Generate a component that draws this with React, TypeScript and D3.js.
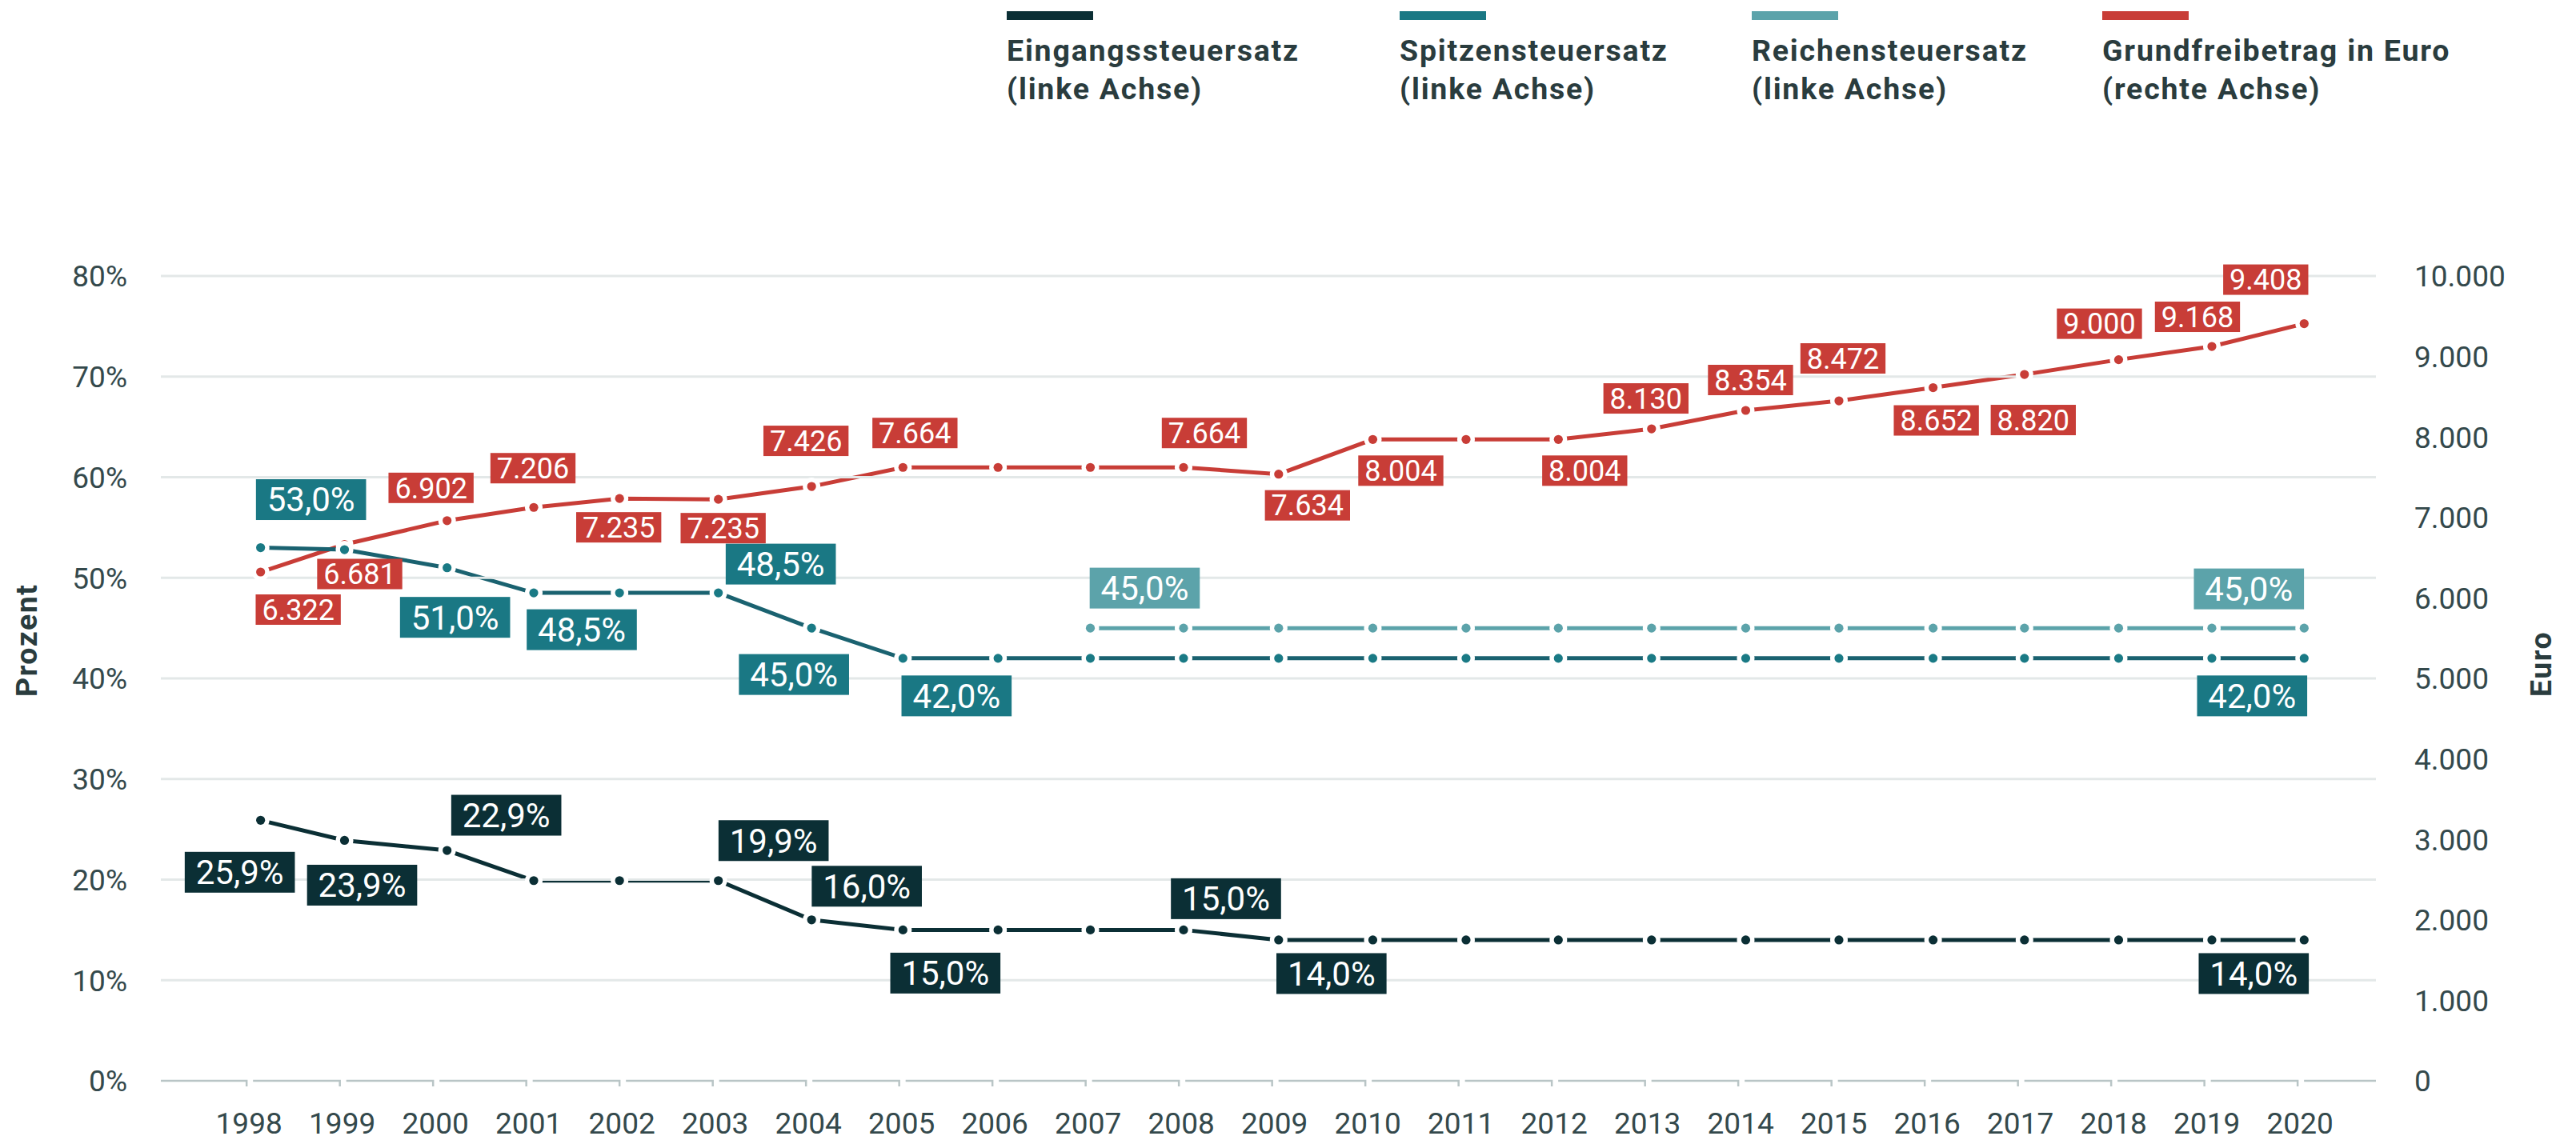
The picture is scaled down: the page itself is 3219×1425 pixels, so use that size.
import React from 'react';
import * as d3 from 'd3';

// ---------- DATA ----------
const years = [1998, 1999, 2000, 2001, 2002, 2003, 2004, 2005, 2006, 2007, 2008, 2009, 2010, 2011, 2012, 2013, 2014, 2015, 2016, 2017, 2018, 2019, 2020];
const dateOffsets = [0.15, 0.05, 0.15, 0.08, 0.0, 0.06, 0.06, 0.04, 0.06, 0.05, 0.05, 0.07, 0.08, 0.08, 0.07, 0.07, 0.08, 0.08, 0.09, 0.07, 0.08, 0.08, 0.07];

const eingangssteuersatz = [25.9, 23.9, 22.9, 19.9, 19.9, 19.9, 16.0, 15.0, 15.0, 15.0, 15.0, 14.0, 14.0, 14.0, 14.0, 14.0, 14.0, 14.0, 14.0, 14.0, 14.0, 14.0, 14.0];
const spitzensteuersatz = [53.0, 52.8, 51.0, 48.5, 48.5, 48.5, 45.0, 42.0, 42.0, 42.0, 42.0, 42.0, 42.0, 42.0, 42.0, 42.0, 42.0, 42.0, 42.0, 42.0, 42.0, 42.0, 42.0];
const reichensteuersatz: (number | null)[] = [null, null, null, null, null, null, null, null, null, 45.0, 45.0, 45.0, 45.0, 45.0, 45.0, 45.0, 45.0, 45.0, 45.0, 45.0, 45.0, 45.0, 45.0];
const grundfreibetrag = [6322, 6665, 6960, 7125, 7235, 7225, 7385, 7622, 7622, 7622, 7622, 7538, 7969, 7969, 7969, 8101, 8330, 8449, 8613, 8777, 8960, 9125, 9408];

const leftTicks = [0, 10, 20, 30, 40, 50, 60, 70, 80];
const rightTicks = [0, 1000, 2000, 3000, 4000, 5000, 6000, 7000, 8000, 9000, 10000];

const legendItems = [
  { key: 'E', line1: 'Eingangssteuersatz', line2: '(linke Achse)' },
  { key: 'S', line1: 'Spitzensteuersatz', line2: '(linke Achse)' },
  { key: 'R', line1: 'Reichensteuersatz', line2: '(linke Achse)' },
  { key: 'G', line1: 'Grundfreibetrag in Euro', line2: '(rechte Achse)' },
];

// value labels: series, year, text, offset of label centre from its point
const valueLabels = [
  { s: 'E', year: 1998, text: '25,9%', dx: -26, dy: 65 },
  { s: 'E', year: 1999, text: '23,9%', dx: 22, dy: 56 },
  { s: 'E', year: 2000, text: '22,9%', dx: 74, dy: -44 },
  { s: 'E', year: 2003, text: '19,9%', dx: 69, dy: -50 },
  { s: 'E', year: 2004, text: '16,0%', dx: 69, dy: -42 },
  { s: 'E', year: 2005, text: '15,0%', dx: 53, dy: 54 },
  { s: 'E', year: 2008, text: '15,0%', dx: 53, dy: -39 },
  { s: 'E', year: 2009, text: '14,0%', dx: 66, dy: 42 },
  { s: 'E', year: 2020, text: '14,0%', dx: -63, dy: 42 },
  { s: 'S', year: 1998, text: '53,0%', dx: 63, dy: -60 },
  { s: 'S', year: 2000, text: '51,0%', dx: 10, dy: 62 },
  { s: 'S', year: 2001, text: '48,5%', dx: 60, dy: 46 },
  { s: 'S', year: 2003, text: '48,5%', dx: 78, dy: -36 },
  { s: 'S', year: 2004, text: '45,0%', dx: -22, dy: 58 },
  { s: 'S', year: 2005, text: '42,0%', dx: 67, dy: 47 },
  { s: 'S', year: 2020, text: '42,0%', dx: -65, dy: 47 },
  { s: 'R', year: 2007, text: '45,0%', dx: 68, dy: -50 },
  { s: 'R', year: 2020, text: '45,0%', dx: -69, dy: -49 },
  { s: 'G', year: 1998, text: '6.322', dx: 47, dy: 47 },
  { s: 'G', year: 1999, text: '6.681', dx: 19, dy: 37 },
  { s: 'G', year: 2000, text: '6.902', dx: -20, dy: -41 },
  { s: 'G', year: 2001, text: '7.206', dx: -1, dy: -49 },
  { s: 'G', year: 2002, text: '7.235', dx: -1, dy: 36 },
  { s: 'G', year: 2003, text: '7.235', dx: 6, dy: 36 },
  { s: 'G', year: 2004, text: '7.426', dx: -7, dy: -57 },
  { s: 'G', year: 2005, text: '7.664', dx: 15, dy: -43 },
  { s: 'G', year: 2008, text: '7.664', dx: 26, dy: -43 },
  { s: 'G', year: 2009, text: '7.634', dx: 36, dy: 39 },
  { s: 'G', year: 2010, text: '8.004', dx: 35, dy: 39 },
  { s: 'G', year: 2012, text: '8.004', dx: 33, dy: 39 },
  { s: 'G', year: 2013, text: '8.130', dx: -7, dy: -38 },
  { s: 'G', year: 2014, text: '8.354', dx: 6, dy: -38 },
  { s: 'G', year: 2015, text: '8.472', dx: 5, dy: -53 },
  { s: 'G', year: 2016, text: '8.652', dx: 4, dy: 41 },
  { s: 'G', year: 2017, text: '8.820', dx: 11, dy: 57 },
  { s: 'G', year: 2018, text: '9.000', dx: -24, dy: -45 },
  { s: 'G', year: 2019, text: '9.168', dx: -18, dy: -37 },
  { s: 'G', year: 2020, text: '9.408', dx: -48, dy: -55 },
];

// ---------- STYLE ----------
const W = 3219;
const H = 1425;
const plotLeft = 201;
const plotRight = 2969;
const plotTop = 345;
const plotBottom = 1351;
const FONT = 'Roboto, "Noto Sans", sans-serif';
const tickColor = '#34494c';
const gridColor = '#e3e8e8';
const axisColor = '#b9c5c6';

const seriesStyle: Record<string, { line: string; dot: string; box: string }> = {
  E: { line: '#0b2f35', dot: '#0b2f35', box: '#0b2f35' },
  S: { line: '#1a6270', dot: '#1a7a85', box: '#1a7884' },
  R: { line: '#5ca3aa', dot: '#5ca3aa', box: '#5ca3aa' },
  G: { line: '#c83d37', dot: '#c83d37', box: '#c83d37' },
};

export default function App() {
  const x = d3.scaleLinear().domain([1997.08, 2020.84]).range([plotLeft, plotRight]);
  const yL = d3.scaleLinear().domain([0, 80]).range([plotBottom, plotTop]);
  const yR = d3.scaleLinear().domain([0, 10000]).range([plotBottom, plotTop]);

  const t = years.map((yr, i) => yr + dateOffsets[i]);

  type Pt = { t: number; v: number | null };
  const mk = (arr: (number | null)[]): Pt[] => arr.map((v, i) => ({ t: t[i], v }));
  const series: Record<string, { pts: Pt[]; y: d3.ScaleLinear<number, number> }> = {
    E: { pts: mk(eingangssteuersatz), y: yL },
    S: { pts: mk(spitzensteuersatz), y: yL },
    R: { pts: mk(reichensteuersatz), y: yL },
    G: { pts: mk(grundfreibetrag), y: yR },
  };

  const lineFor = (k: string) =>
    d3
      .line<Pt>()
      .defined((d) => d.v != null)
      .x((d) => x(d.t))
      .y((d) => series[k].y(d.v as number))(series[k].pts) || '';

  const order = ['G', 'R', 'S', 'E'];

  // x axis segments
  const axisSegs: string[] = [];
  years.forEach((yr, i) => {
    const start = i === 0 ? plotLeft : x(years[i - 1]) + 8;
    axisSegs.push(`M${start},${plotBottom}H${x(yr)}V${plotBottom + 7}`);
  });
  axisSegs.push(`M${x(years[years.length - 1]) + 8},${plotBottom}H${plotRight}`);

  const legendX = [1258, 1749, 2189, 2627];

  return (
    <svg
      width={W}
      height={H}
      style={{ position: 'absolute', left: 0, top: 0, background: '#fff' }}
      fontFamily={FONT}
    >
      <rect width={W} height={H} fill="#fff" />

      {/* legend */}
      {legendItems.map((it, i) => (
        <g key={it.key} transform={`translate(${legendX[i]},0)`}>
          <rect x={0} y={14} width={108} height={11} fill={seriesStyle[it.key].box} />
          <text y={76} fontSize={37.5} fontWeight={700} fill="#2a3c3e" letterSpacing={1.8}>
            {it.line1}
          </text>
          <text y={124} fontSize={37.5} fontWeight={700} fill="#2a3c3e" letterSpacing={1.8}>
            {it.line2}
          </text>
        </g>
      ))}

      {/* lines */}
      {order.map((k) => (
        <path key={k} d={lineFor(k)} fill="none" stroke={seriesStyle[k].line} strokeWidth={5} />
      ))}

      {/* gridlines */}
      {leftTicks
        .filter((v) => v > 0)
        .map((v) => (
          <line key={v} x1={plotLeft} x2={plotRight} y1={yL(v)} y2={yL(v)} stroke={gridColor} strokeWidth={3} />
        ))}

      {/* x axis */}
      {axisSegs.map((d, i) => (
        <path key={i} d={d} fill="none" stroke={axisColor} strokeWidth={2.5} />
      ))}
      {years.map((yr) => (
        <text key={yr} x={x(yr) + 3} y={1417} textAnchor="middle" fontSize={37} fill={tickColor}>
          {yr}
        </text>
      ))}

      {/* left axis */}
      {leftTicks.map((v) => (
        <text key={v} x={159} y={yL(v)} dy="0.36em" textAnchor="end" fontSize={37} fill={tickColor}>
          {`${v}%`}
        </text>
      ))}
      {/* right axis */}
      {rightTicks.map((v) => (
        <text key={v} x={3017} y={yR(v)} dy="0.36em" textAnchor="start" fontSize={37} fill={tickColor}>
          {d3.format(',')(v).replace(/,/g, '.')}
        </text>
      ))}
      <text
        transform={`translate(46,871) rotate(-90)`}
        fontSize={37.5}
        fontWeight={700}
        fill="#2a3c3e"
        letterSpacing={1.5}
      >
        Prozent
      </text>
      <text
        transform={`translate(3188,871) rotate(-90)`}
        fontSize={37.5}
        fontWeight={700}
        fill="#2a3c3e"
        letterSpacing={1.5}
      >
        Euro
      </text>

      {/* dots with white halo */}
      {order.map((k) =>
        series[k].pts
          .filter((p) => p.v != null)
          .map((p, i) => (
            <g key={k + i}>
              <circle cx={x(p.t)} cy={series[k].y(p.v as number)} r={11} fill="#fff" />
              <circle cx={x(p.t)} cy={series[k].y(p.v as number)} r={5.6} fill={seriesStyle[k].dot} />
            </g>
          ))
      )}

      {/* value labels */}
      {valueLabels.map((lb, i) => {
        const idx = years.indexOf(lb.year);
        const p = series[lb.s].pts[idx];
        const cx = x(p.t) + lb.dx;
        const cy = series[lb.s].y(p.v as number) + lb.dy;
        const isRed = lb.s === 'G';
        const fs = isRed ? 36 : 42;
        const padX = isRed ? 8 : 14;
        const bh = isRed ? 38 : 51;
        const tw = isRed ? 2.51 * fs : 2.61 * fs;
        const bw = tw + padX * 2;
        return (
          <g key={i}>
            <rect x={cx - bw / 2} y={cy - bh / 2} width={bw} height={bh} fill={seriesStyle[lb.s].box} />
            <text x={cx} y={cy} dy="0.355em" textAnchor="middle" fontSize={fs} fill="#fff">
              {lb.text}
            </text>
          </g>
        );
      })}
    </svg>
  );
}
